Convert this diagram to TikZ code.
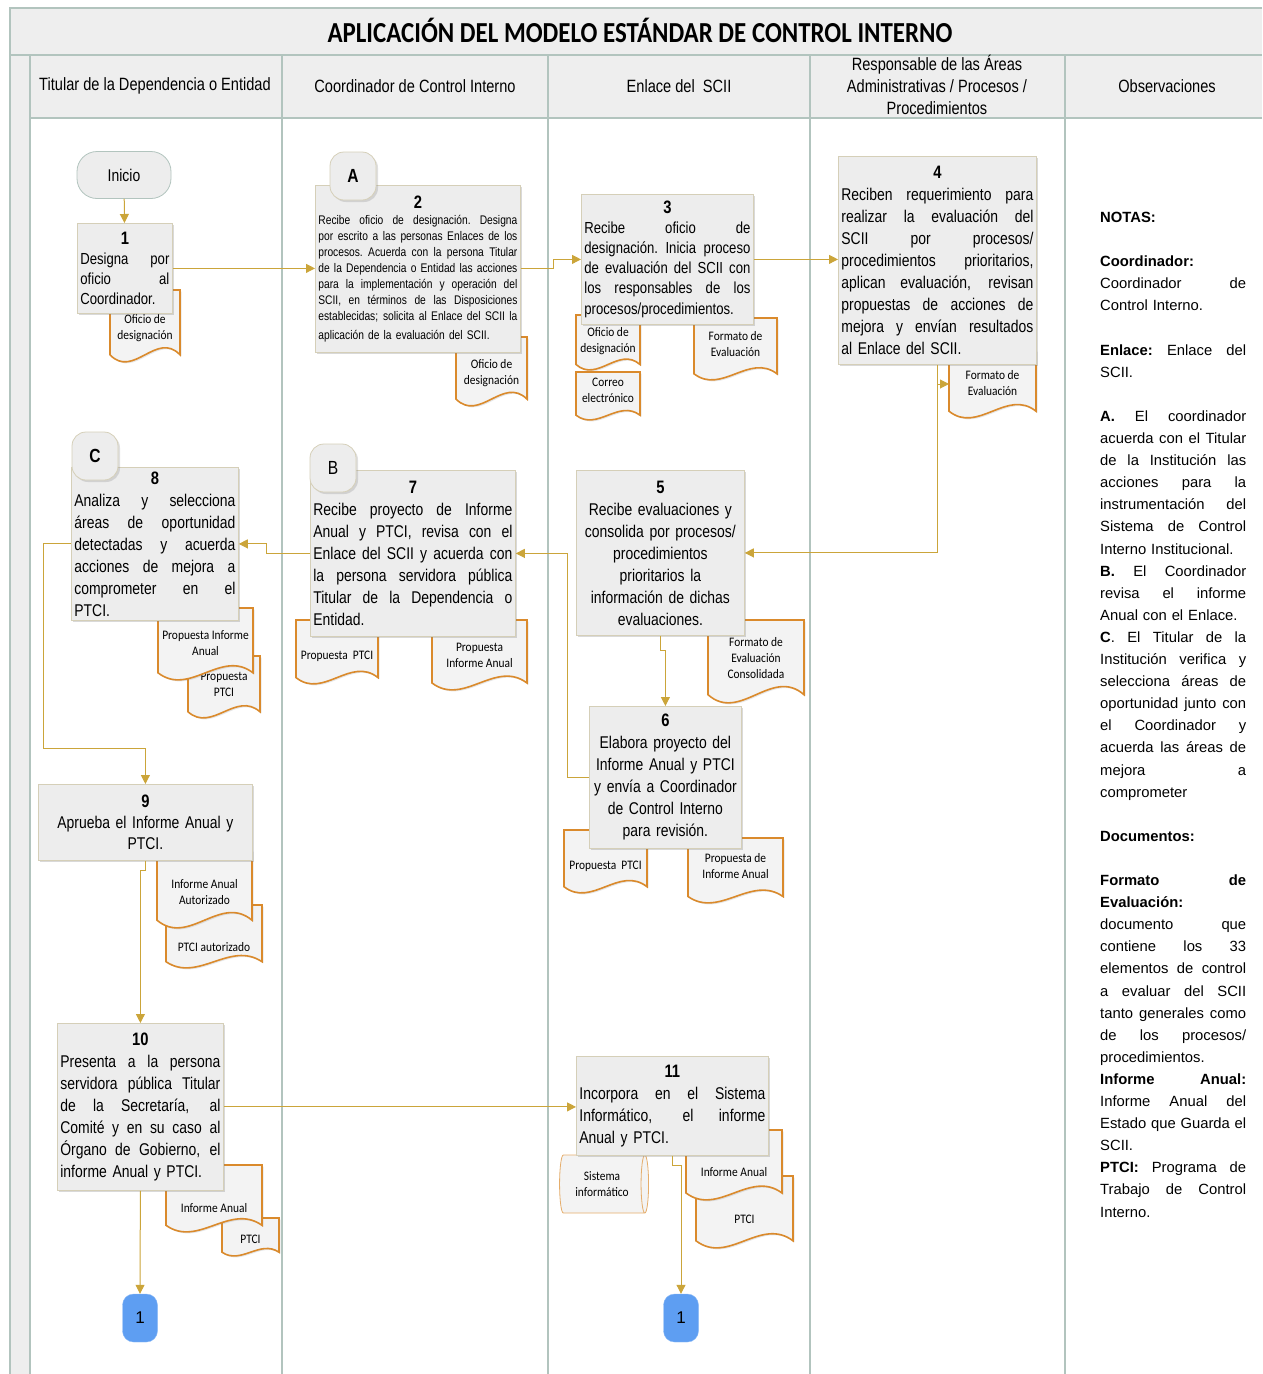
\documentclass[tikz,border=0pt]{standalone}
\usepackage{fontspec}
\setmainfont{Liberation Sans}
\newfontfamily\narrowfont[FakeStretch=0.82]{Liberation Sans}
\newfontfamily\docfont[FakeStretch=0.88]{Carlito}
\newfontfamily\titlefont[FakeStretch=0.86]{Carlito}
\usetikzlibrary{arrows.meta,shadows,shapes.geometric}

\definecolor{lanecol}{HTML}{B2C4BE}
\definecolor{hdrfill}{HTML}{EEEEEE}
\definecolor{boxfill}{HTML}{EDEDED}
\definecolor{boxline}{HTML}{D5CFB8}
\definecolor{docline}{HTML}{DA8A2C}
\definecolor{docfill}{HTML}{F3F3F3}
\definecolor{flowcol}{HTML}{CBA53A}
\definecolor{offfill}{HTML}{5E9EF2}

% full-width (justified) line and centred step number
\newcommand\jline[1]{\leavevmode\hbox to\hsize{\spaceskip=.28em plus 1fil\xspaceskip=.28em plus 1fil\relax #1}}
\newcommand\stepno[1]{\makebox[\hsize]{\fontsize{18}{22}\selectfont\bfseries #1}}

% document symbol: name, x1, y1, x2, y2, label y, label
\newcommand\docu[7]{%
  \pgfmathsetmacro\dend{#5-0.1*(#5-#3)}%
  \pgfmathsetmacro\dbend{0.34*(#5-#3)}%
  \pgfmathsetmacro\dra{#4-(#4-#2)/3}%
  \pgfmathsetmacro\drb{#2+(#4-#2)/3}%
  \draw[docshape] (#2,#3) -- (#4,#3) -- (#4,\dend)
    .. controls (\dra,\dend-\dbend) and (\drb,\dend+\dbend) .. (#2,\dend) -- cycle;
  \node[doclabel] (#1) at ({(#2+#4)/2},#6) {#7};}

\begin{document}
\begin{tikzpicture}[
        x=1pt, y=-1pt,
        lane/.style={draw=lanecol,line width=1.5pt},
        hdr/.style={font=\narrowfont\fontsize{17.8}{22}\selectfont,align=center},
        box/.style={rectangle,draw=boxline,line width=0.8pt,fill=boxfill,anchor=north west,
            inner xsep=3pt,inner ysep=1pt,align=left,font=\narrowfont\fontsize{17}{22}\selectfont,
            drop shadow={shadow xshift=2pt,shadow yshift=-2pt,opacity=.3}},
        pin/.style={rectangle,rounded corners=14pt,draw=boxline,line width=0.8pt,fill=boxfill,
            minimum width=46,minimum height=48,font=\narrowfont\fontsize{19}{22}\selectfont,
            drop shadow={shadow xshift=2pt,shadow yshift=-2pt,opacity=.25}},
        offpage/.style={rectangle,rounded corners=11pt,fill=offfill,draw=offfill!70!white,
            minimum width=35,minimum height=48,font=\fontsize{17}{20}\selectfont},
        docshape/.style={draw=docline,line width=1.6pt,fill=docfill,
            drop shadow={shadow xshift=1.5pt,shadow yshift=-1.5pt,opacity=.2}},
        doclabel/.style={font=\docfont\fontsize{13}{16}\selectfont,align=center,inner sep=0pt},
        flow/.style={draw=flowcol,line width=1pt,-{Triangle[length=9pt,width=9pt]}},
        notes/.style={anchor=north west,inner sep=0pt,text width=146,align=left,
            font=\fontsize{14.8}{22.1}\selectfont}
    ]
    \useasboundingbox (0,0) rectangle (1262,1374);

    % lanes and headings
    \fill[hdrfill] (10,8) rectangle (1262,118);
    \fill[hdrfill] (10,55) rectangle (30,1374);
    \draw[lane] (10,1374) -- (10,8) -- (1262,8);
    \draw[lane] (10,55) -- (1262,55);
    \draw[lane] (30,118) -- (1262,118);
    \foreach \x in {30,282,548,810,1065}
        \draw[lane] (\x,55) -- (\x,1374);

    \node[font=\titlefont\bfseries\fontsize{29}{30}\selectfont] (titulo) at (640,30)
        {APLICACIÓN DEL MODELO ESTÁNDAR DE CONTROL INTERNO};
    \node[hdr] (h1) at (155,86) {Titular de la Dependencia o Entidad};
    \node[hdr] (h2) at (415,86) {Coordinador de Control Interno};
    \node[hdr] (h3) at (679,86) {Enlace del~ SCII};
    \node[hdr] (h4) at (937,85) {Responsable de las Áreas\\ Administrativas / Procesos /\\ Procedimientos};
    \node[hdr] (h5) at (1167,86) {Observaciones};

    % documents
    \docu{d1}{110}{290}{180}{362}{328}{Oficio de\\designación}
    \docu{d2}{456}{337}{527}{406}{373}{Oficio de\\designación}
    \docu{d3a}{576}{315}{640}{370}{341}{Oficio de\\designación}
    \docu{d3b}{576}{372}{640}{420}{390}{Correo\\electrónico}
    \docu{d3c}{694}{318}{777}{380}{344}{Formato de\\Evaluación}
    \docu{d4}{949}{350}{1036}{418}{383}{Formato de\\Evaluación}
    \docu{d5}{708}{620}{804}{703}{658}{Formato de\\Evaluación\\Consolidada}
    \docu{d6a}{564}{830}{647}{893}{866}{Propuesta~ PTCI}
    \docu{d6b}{688}{838}{783}{903}{866}{Propuesta de\\Informe Anual}
    \docu{d7a}{296}{620}{378}{684}{656}{Propuesta~ PTCI}
    \docu{d7b}{432}{620}{527}{690}{655}{Propuesta\\Informe Anual}
    \docu{d8b}{188}{656}{260}{718}{684}{Propuesta\\PTCI}
    \docu{d8a}{158}{608}{253}{680}{643}{Propuesta Informe\\Anual}
    \docu{d9b}{166}{905}{262}{968}{947}{PTCI autorizado}
    \docu{d9a}{157}{850}{252}{928}{892}{Informe Anual\\Autorizado}
    \docu{d10b}{222}{1218}{279}{1256}{1239}{PTCI}
    \docu{d10a}{166}{1165}{262}{1232}{1208}{Informe Anual}
    \docu{d11b}{696}{1176}{793}{1248}{1219}{PTCI}
    \docu{d11a}{686}{1130}{782}{1200}{1172}{Informe Anual}
    \node[cylinder,draw=docline!70,fill=docfill,line width=0.8pt,minimum width=58,minimum height=89,
        shape aspect=0.3,doclabel] (sis) at (602,1184) {Sistema\\informático};

    % steps
    \node[rectangle,rounded corners=20pt,draw=lanecol,line width=0.8pt,fill=boxfill,minimum width=94,
        minimum height=47,font=\narrowfont\fontsize{17}{22}\selectfont] (ini) at (124,175) {Inicio};
    \node[box,text width=89,minimum height=90,font=\narrowfont\fontsize{16}{20}\selectfont] (p1) at (77,223)
        {\stepno{1}\\ \jline{Designa por}\\ \jline{oficio al}\\ Coordinador.};
    \node[box,text width=199,minimum height=167,font=\narrowfont\fontsize{12.5}{16}\selectfont] (p2) at (315,185)
        {\stepno{2}\\ \jline{Recibe oficio de designación. Designa}\\
         \jline{por escrito a las personas Enlaces de los}\\
         \jline{procesos.  Acuerda con la persona Titular}\\
         \jline{de la Dependencia o Entidad las acciones}\\
         \jline{para la implementación y operación del}\\
         \jline{SCII, en términos de las Disposiciones}\\
         \jline{establecidas; solicita al Enlace del SCII la}\\[3pt]
         aplicación de la evaluación del SCII.};
    \node[box,text width=166,minimum height=130,font=\narrowfont\fontsize{16}{20}\selectfont] (p3) at (581,194)
        {\stepno{3}\\ \jline{Recibe oficio de}\\ \jline{designación. Inicia proceso}\\
         \jline{de evaluación del SCII con}\\ \jline{los responsables de los}\\[1pt] procesos/procedimientos.};
    \node[box,text width=192,minimum height=208] (p4) at (838,156)
        {\stepno{4}\\ \jline{Reciben requerimiento para}\\ \jline{realizar la evaluación del}\\
         \jline{SCII por procesos/}\\ \jline{procedimientos prioritarios,}\\ \jline{aplican evaluación, revisan}\\
         \jline{propuestas de acciones de}\\ \jline{mejora y envían resultados}\\ al Enlace del SCII.};
    \node[box,text width=162,minimum height=165,align=center] (p5) at (576,470)
        {\stepno{5}\\ Recibe evaluaciones y\\ consolida por procesos/\\ procedimientos\\ prioritarios la\\
         información de dichas\\ evaluaciones.};
    \node[box,text width=146,minimum height=142,align=center] (p6) at (589,706)
        {\stepno{6}\\ Elabora proyecto del\\ Informe Anual y PTCI\\ y envía a Coordinador\\
         de Control Interno\\ para revisión.};
    \node[box,text width=199,minimum height=166] (p7) at (310,470)
        {\stepno{7}\\ \jline{Recibe proyecto de Informe}\\ \jline{Anual y PTCI, revisa con el}\\
         \jline{Enlace del SCII y acuerda con}\\ \jline{la persona servidora pública}\\
         \jline{Titular de la Dependencia o}\\ Entidad.};
    \node[box,text width=161,minimum height=153] (p8) at (71,467)
        {\stepno{8}\\ \jline{Analiza y selecciona}\\ \jline{áreas de oportunidad}\\
         \jline{detectadas y acuerda}\\ \jline{acciones de mejora a}\\ \jline{comprometer en el}\\ PTCI.};
    \node[box,text width=208,minimum height=76,align=center,font=\narrowfont\fontsize{17}{21}\selectfont] (p9) at (38,784)
        {\stepno{9}\\ Aprueba el Informe Anual y\\ PTCI.};
    \node[box,text width=160,minimum height=167] (p10) at (57,1023)
        {\stepno{10}\\ \jline{Presenta a la persona}\\ \jline{servidora pública Titular}\\
         \jline{de la Secretaría, al}\\ \jline{Comité y en su caso al}\\ \jline{Órgano de Gobierno, el}\\
         informe Anual y PTCI.};
    \node[box,text width=186,minimum height=99] (p11) at (576,1056)
        {\stepno{11}\\ \jline{Incorpora en el Sistema}\\ \jline{Informático, el informe}\\ Anual y PTCI.};

    \node[pin] (cA) at (353,176) {\bfseries A};
    \node[pin] (cB) at (333,468) {B};
    \node[pin] (cC) at (95,456) {\bfseries C};
    \node[offpage] (c1) at (140,1318) {1};
    \node[offpage] (c2) at (681,1318) {1};

    % flow
    \coordinate (k9) at (43,748);
    \coordinate (f4in) at (949,384);
    \draw[flow] (ini) -- (p1);
    \draw[flow] (p1.east) -- (p1.east -| p2.west);
    \draw[flow] (p2.east) -- ++(33,0) |- (p3.west);
    \draw[flow] (p3.east) -- (p3.east -| p4.west);
    \draw[flow] (p4.south) |- (p5.east);
    \draw[flow] (p4.south |- f4in) -- (f4in);
    \draw[flow] (p5.south) -- ++(0,15) -| (p6.north);
    \draw[flow] (p6.west) -- ++(-22,0) |- (p7.east);
    \draw[flow] (p7.west) -- ++(-44,0) |- (p8.east);
    \draw[flow] (p8.west) -| (k9) -| (p9.north);
    \draw[flow] (p9.south) -- ++(0,10) -| (p10.north);
    \draw[flow] (p10.east) -- (p10.east -| p11.west);
    \draw[flow] (p10.south) -- (c1.north);
    \draw[flow] (p11.south) -- ++(0,10) -| (c2.north);

    % notes
    \node[notes] (notas) at (1100,212) {%
        \textbf{NOTAS:}\\[22.1pt]
        \textbf{Coordinador:}\\
        \jline{Coordinador de}\\
        Control Interno.\\[22.1pt]
        \jline{\textbf{Enlace:} Enlace del}\\
        SCII.\\[22.1pt]
        \jline{\textbf{A.} El coordinador}\\
        \jline{acuerda con el Titular}\\
        \jline{de la Institución las}\\
        \jline{acciones para la}\\
        \jline{instrumentación del}\\
        \jline{Sistema de Control}\\
        Interno Institucional.\\
        \jline{\textbf{B.} El Coordinador}\\
        \jline{revisa el informe}\\
        Anual con el Enlace.\\
        \jline{\textbf{C}. El Titular de la}\\
        \jline{Institución verifica y}\\
        \jline{selecciona áreas de}\\
        \jline{oportunidad junto con}\\
        \jline{el Coordinador y}\\
        \jline{acuerda las áreas de}\\
        \jline{mejora a}\\
        comprometer\\[22.1pt]
        \textbf{Documentos:}\\[22.1pt]
        \jline{\textbf{Formato de}}\\
        \textbf{Evaluación:}\\
        \jline{documento que}\\
        \jline{contiene los 33}\\
        \jline{elementos de control}\\
        \jline{a evaluar del SCII}\\
        \jline{tanto generales como}\\
        \jline{de los procesos/}\\
        procedimientos.\\
        \jline{\textbf{Informe Anual:}}\\
        \jline{Informe Anual del}\\
        \jline{Estado que Guarda el}\\
        SCII.\\
        \jline{\textbf{PTCI:} Programa de}\\
        \jline{Trabajo de Control}\\
        Interno.};
\end{tikzpicture}
\end{document}
